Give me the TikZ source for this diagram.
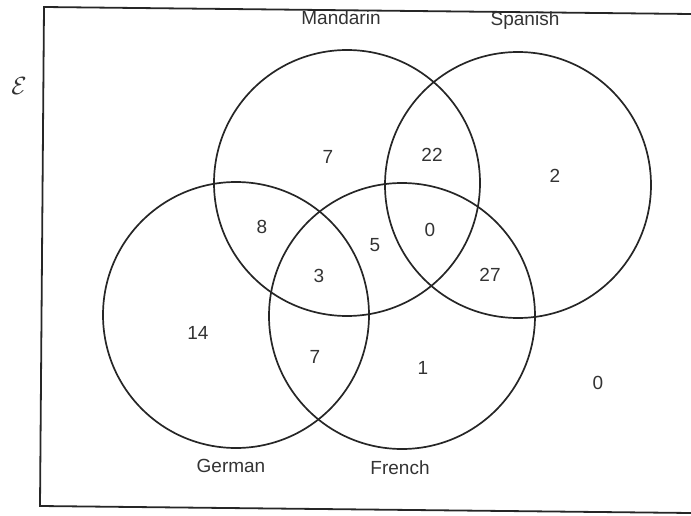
\documentclass[tikz,border=0pt]{standalone}
\usepackage{fontspec}
\setmainfont{Liberation Sans}
\begin{document}
\begin{tikzpicture}[x=1pt,y=-1pt,
    setline/.style={black!85, line width=1.7pt},
    count/.style={font=\fontsize{19}{21}\selectfont, text=black!80},
    setname/.style={font=\fontsize{19}{21}\selectfont, text=black!80}]
    \useasboundingbox (0,0) rectangle (691,516);

    % Universal set frame
    \coordinate (tl) at (44,7);
    \coordinate (tr) at (691,14);
    \coordinate (bl) at (40,506);
    \coordinate (br) at (691,513);
    \draw[setline, line width=1.8pt] (tr) -- (tl) -- (bl) -- (br);
    \node[font=\fontsize{24}{26}\selectfont, text=black!80] (univ) at (19,86) {$\mathcal{E}$};

    % Circles
    \coordinate (mandarin) at (347,183);
    \coordinate (spanish) at (518,185);
    \coordinate (german) at (236,315);
    \coordinate (french) at (402,316);
    \foreach \c in {mandarin, spanish, german, french}{
        \draw[setline] (\c) circle[radius=133pt];
    }

    % Set names
    \node[setname] (lmandarin) at (341,18) {Mandarin};
    \node[setname] (lspanish) at (525,21) {Spanish};
    \node[setname] (lgerman) at (231,466) {German};
    \node[setname] (lfrench) at (400,468) {French};

    % Region counts
    \foreach \name/\pos/\val in {
        m/{(328,157)}/7,
        ms/{(432,155)}/22,
        s/{(555,176)}/2,
        mg/{(262,227)}/8,
        mf/{(375,245)}/5,
        msf/{(430,230)}/0,
        mgf/{(319,276)}/3,
        sf/{(490,275)}/27,
        g/{(198,333)}/14,
        gf/{(315,357)}/7,
        f/{(423,368)}/1,
        none/{(598,383)}/0
    }{
        \node[count] (n\name) at \pos {\val};
    }
\end{tikzpicture}
\end{document}
